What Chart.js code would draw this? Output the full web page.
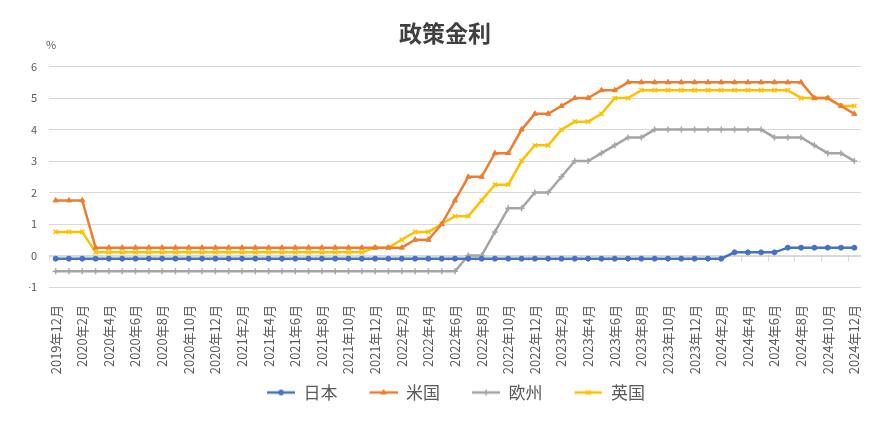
<!DOCTYPE html>
<html>
<head>
<meta charset="utf-8">
<title>政策金利</title>
<script src="https://cdn.jsdelivr.net/npm/chart.js@4.4.1/dist/chart.umd.min.js"></script>
<style>
  html, body { margin: 0; padding: 0; background: #ffffff; }
  #wrap { width: 890px; height: 434px; position: relative; }
</style>
</head>
<body>
<div id="wrap"><canvas id="rateChart"></canvas></div>
<script>
// Months, December 2019 to December 2024
const months = [
    '2019年12月',
    '2020年1月', '2020年2月', '2020年3月', '2020年4月', '2020年5月', '2020年6月',
    '2020年7月', '2020年8月', '2020年9月', '2020年10月', '2020年11月', '2020年12月',
    '2021年1月', '2021年2月', '2021年3月', '2021年4月', '2021年5月', '2021年6月',
    '2021年7月', '2021年8月', '2021年9月', '2021年10月', '2021年11月', '2021年12月',
    '2022年1月', '2022年2月', '2022年3月', '2022年4月', '2022年5月', '2022年6月',
    '2022年7月', '2022年8月', '2022年9月', '2022年10月', '2022年11月', '2022年12月',
    '2023年1月', '2023年2月', '2023年3月', '2023年4月', '2023年5月', '2023年6月',
    '2023年7月', '2023年8月', '2023年9月', '2023年10月', '2023年11月', '2023年12月',
    '2024年1月', '2024年2月', '2024年3月', '2024年4月', '2024年5月', '2024年6月',
    '2024年7月', '2024年8月', '2024年9月', '2024年10月', '2024年11月', '2024年12月'
];

// Policy rates (%), one value per month
const japanRates = [
    -0.1,
    -0.1, -0.1, -0.1, -0.1, -0.1, -0.1, -0.1, -0.1, -0.1, -0.1, -0.1, -0.1,
    -0.1, -0.1, -0.1, -0.1, -0.1, -0.1, -0.1, -0.1, -0.1, -0.1, -0.1, -0.1,
    -0.1, -0.1, -0.1, -0.1, -0.1, -0.1, -0.1, -0.1, -0.1, -0.1, -0.1, -0.1,
    -0.1, -0.1, -0.1, -0.1, -0.1, -0.1, -0.1, -0.1, -0.1, -0.1, -0.1, -0.1,
    -0.1, -0.1, 0.1, 0.1, 0.1, 0.1, 0.25, 0.25, 0.25, 0.25, 0.25, 0.25
];
const usRates = [
    1.75,
    1.75, 1.75, 0.25, 0.25, 0.25, 0.25, 0.25, 0.25, 0.25, 0.25, 0.25, 0.25,
    0.25, 0.25, 0.25, 0.25, 0.25, 0.25, 0.25, 0.25, 0.25, 0.25, 0.25, 0.25,
    0.25, 0.25, 0.5, 0.5, 1.0, 1.75, 2.5, 2.5, 3.25, 3.25, 4.0, 4.5,
    4.5, 4.75, 5.0, 5.0, 5.25, 5.25, 5.5, 5.5, 5.5, 5.5, 5.5, 5.5,
    5.5, 5.5, 5.5, 5.5, 5.5, 5.5, 5.5, 5.5, 5.0, 5.0, 4.75, 4.5
];
const euroRates = [
    -0.5,
    -0.5, -0.5, -0.5, -0.5, -0.5, -0.5, -0.5, -0.5, -0.5, -0.5, -0.5, -0.5,
    -0.5, -0.5, -0.5, -0.5, -0.5, -0.5, -0.5, -0.5, -0.5, -0.5, -0.5, -0.5,
    -0.5, -0.5, -0.5, -0.5, -0.5, -0.5, 0, 0, 0.75, 1.5, 1.5, 2.0,
    2.0, 2.5, 3.0, 3.0, 3.25, 3.5, 3.75, 3.75, 4.0, 4.0, 4.0, 4.0,
    4.0, 4.0, 4.0, 4.0, 4.0, 3.75, 3.75, 3.75, 3.5, 3.25, 3.25, 3.0
];
const ukRates = [
    0.75,
    0.75, 0.75, 0.1, 0.1, 0.1, 0.1, 0.1, 0.1, 0.1, 0.1, 0.1, 0.1,
    0.1, 0.1, 0.1, 0.1, 0.1, 0.1, 0.1, 0.1, 0.1, 0.1, 0.1, 0.25,
    0.25, 0.5, 0.75, 0.75, 1.0, 1.25, 1.25, 1.75, 2.25, 2.25, 3.0, 3.5,
    3.5, 4.0, 4.25, 4.25, 4.5, 5.0, 5.0, 5.25, 5.25, 5.25, 5.25, 5.25,
    5.25, 5.25, 5.25, 5.25, 5.25, 5.25, 5.25, 5.0, 5.0, 5.0, 4.75, 4.75
];

const yTicks = [-1, 0, 1, 2, 3, 4, 5, 6];

const FONT = '"Noto Sans CJK JP", "Noto Sans", sans-serif';
const TEXT_COLOR = '#595959';
const GRID_COLOR = '#d9d9d9';

// Line + marker swatch for the legend (transparent margin on the left keeps items apart)
function makeSwatch(color, style, radius, bw) {
    const c = document.createElement('canvas');
    c.width = 50;
    c.height = 10;
    const g = c.getContext('2d');
    g.strokeStyle = color;
    g.fillStyle = color;
    g.lineWidth = 2.5;
    g.beginPath();
    g.moveTo(22, 5);
    g.lineTo(50, 5);
    g.stroke();
    g.lineWidth = bw;
    Chart.helpers.drawPoint(g, { pointStyle: style, radius: radius, borderWidth: bw }, 36, 5);
    return c;
}

// Axis line at 0 with tick marks every two months (between categories)
const zeroAxisPlugin = {
    id: 'zeroAxis',
    beforeDatasetsDraw(chart) {
        const ctx = chart.ctx;
        const xs = chart.scales.x;
        const ys = chart.scales.y;
        const area = chart.chartArea;
        const y0 = Math.round(ys.getPixelForValue(0)) + 0.5;
        const half = (xs.getPixelForValue(1) - xs.getPixelForValue(0)) / 2;
        ctx.save();
        ctx.strokeStyle = GRID_COLOR;
        ctx.lineWidth = 1;
        ctx.beginPath();
        ctx.moveTo(area.left, y0);
        ctx.lineTo(area.right, y0);
        for (let i = 0; i < months.length; i += 2) {
            const px = Math.round(xs.getPixelForValue(i) - half) + 0.5;
            ctx.moveTo(px, y0);
            ctx.lineTo(px, y0 + 5);
        }
        ctx.stroke();
        ctx.restore();
    },
    afterDraw(chart) {
        const ctx = chart.ctx;
        ctx.save();
        ctx.fillStyle = TEXT_COLOR;
        ctx.font = '11px ' + FONT;
        ctx.textBaseline = 'middle';
        ctx.fillText('%', 46, 45);
        ctx.restore();
    }
};

function makeDataset(label, data, color, style, radius, bw) {
    return {
        label: label,
        data: data,
        borderColor: color,
        backgroundColor: color,
        borderWidth: 2.5,
        pointStyle: style,
        pointRadius: radius,
        pointBorderWidth: bw,
        pointHoverRadius: radius,
        tension: 0,
        swatch: makeSwatch(color, style, radius, bw)
    };
}

const ctx = document.getElementById('rateChart').getContext('2d');
const chartInstance = new Chart(ctx, {
    type: 'line',
    data: {
        labels: months,
        datasets: [
            makeDataset('日本', japanRates, '#4472c4', 'circle', 2.5, 1),
            makeDataset('米国', usRates, '#ed7d31', 'triangle', 3, 1),
            makeDataset('欧州', euroRates, '#a5a5a5', 'cross', 3, 1.5),
            makeDataset('英国', ukRates, '#ffc000', 'crossRot', 3, 1.5)
        ]
    },
    options: {
        responsive: true,
        maintainAspectRatio: false,
        animation: false,
        layout: {
            padding: { left: 29, right: 29, top: 0, bottom: 23 }
        },
        plugins: {
            title: {
                display: true,
                text: '政策金利',
                color: '#404040',
                font: { family: FONT, size: 23, weight: 'bold' },
                padding: { top: 19, bottom: 20 }
            },
            legend: {
                position: 'bottom',
                labels: {
                    color: TEXT_COLOR,
                    font: { family: FONT, size: 17 },
                    usePointStyle: true,
                    pointStyleWidth: 50,
                    padding: 10,
                    generateLabels: function(chart) {
                        const items = Chart.defaults.plugins.legend.labels.generateLabels(chart);
                        items.forEach(item => {
                            item.pointStyle = chart.data.datasets[item.datasetIndex].swatch;
                        });
                        return items;
                    }
                }
            },
            tooltip: { enabled: false }
        },
        scales: {
            x: {
                offset: true,
                grid: { display: false },
                border: { display: false },
                afterFit: function(axis) {
                    axis.height = 87;
                },
                ticks: {
                    autoSkip: false,
                    minRotation: 90,
                    maxRotation: 90,
                    padding: 10,
                    color: TEXT_COLOR,
                    font: { family: FONT, size: 13 },
                    callback: function(value, index) {
                        return index % 2 === 0 ? months[index] : '';
                    }
                }
            },
            y: {
                min: yTicks[0],
                max: yTicks[yTicks.length - 1],
                afterBuildTicks: function(axis) {
                    axis.ticks = yTicks.map(v => ({ value: v }));
                },
                afterFit: function(axis) {
                    axis.width = 20;
                },
                grid: { color: GRID_COLOR, drawTicks: false },
                border: { display: false },
                ticks: {
                    padding: 12,
                    color: TEXT_COLOR,
                    font: { family: FONT, size: 11 }
                }
            }
        }
    },
    plugins: [zeroAxisPlugin]
});
</script>
</body>
</html>
